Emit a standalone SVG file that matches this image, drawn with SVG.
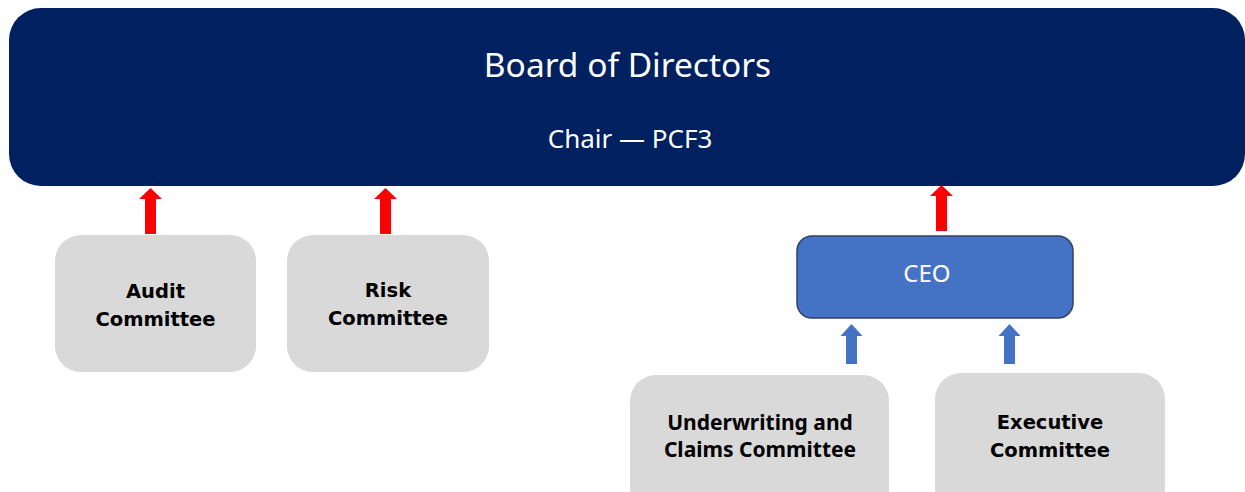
<svg xmlns="http://www.w3.org/2000/svg" width="1245" height="492" viewBox="0 0 1245 492">
  <style>
    .board { fill: #002060; }
    .board-title { font-family: "Noto Sans", "Open Sans", sans-serif; fill: #ffffff; text-anchor: middle; }
    .committee { fill: #D9D9D9; }
    .lbl-v { font-family: "DejaVu Sans", Verdana, sans-serif; font-weight: bold; font-size: 19.5px; fill: #000000; text-anchor: middle; }
    .lbl-n { font-family: "Noto Sans", sans-serif; font-weight: bold; font-size: 21px; fill: #000000; text-anchor: middle; }
    .ceo { fill: #4472C4; stroke: #2F4266; stroke-width: 1.5; }
    .ceo-lbl { font-family: "Noto Sans", sans-serif; font-size: 24px; fill: #ffffff; text-anchor: middle; }
    .arrow-red { fill: #FF0000; }
    .arrow-blue { fill: #4472C4; }
  </style>
  <defs>
    <!-- upward block arrow, tip at (0,0), 46px long -->
    <path id="uparrow" d="M0,0 L11.5,11 L5.5,11 L5.5,46 L-5.5,46 L-5.5,11 L-11.5,11 Z"/>
    <path id="uparrow-short" d="M0,0 L11,12 L5.5,12 L5.5,40 L-5.5,40 L-5.5,12 L-11,12 Z"/>
  </defs>

  <rect width="1245" height="492" fill="#ffffff"/>

  <g id="board">
    <rect class="board" x="9" y="8" width="1236" height="178" rx="32" ry="32"/>
    <text class="board-title" x="627.5" y="77" font-size="33.5">Board of Directors</text>
    <text class="board-title" x="630" y="148" font-size="26">Chair — PCF3</text>
  </g>

  <g id="audit-committee">
    <rect class="committee" x="55" y="235" width="201" height="137" rx="26" ry="26"/>
    <text class="lbl-v" x="155.5" y="298">Audit</text>
    <text class="lbl-v" x="155.5" y="326">Committee</text>
  </g>

  <g id="risk-committee">
    <rect class="committee" x="287" y="235" width="202" height="137" rx="26" ry="26"/>
    <text class="lbl-v" x="388" y="297">Risk</text>
    <text class="lbl-v" x="388" y="325">Committee</text>
  </g>

  <g id="ceo">
    <rect class="ceo" x="797" y="236" width="276" height="82" rx="15" ry="15"/>
    <text class="ceo-lbl" x="927" y="282">CEO</text>
  </g>

  <g id="underwriting-claims-committee">
    <rect class="committee" x="630" y="375" width="259" height="140" rx="26" ry="26"/>
    <text class="lbl-n" x="760" y="430">Underwriting and</text>
    <text class="lbl-n" x="760" y="457">Claims Committee</text>
  </g>

  <g id="executive-committee">
    <rect class="committee" x="935" y="373" width="230" height="140" rx="26" ry="26"/>
    <text class="lbl-v" x="1050" y="429">Executive</text>
    <text class="lbl-v" x="1050" y="457">Committee</text>
  </g>

  <g id="connectors">
    <use href="#uparrow" class="arrow-red" x="150.5" y="188"/>
    <use href="#uparrow" class="arrow-red" x="385.5" y="188"/>
    <use href="#uparrow" class="arrow-red" x="941.5" y="185"/>
    <use href="#uparrow-short" class="arrow-blue" x="851.5" y="324"/>
    <use href="#uparrow-short" class="arrow-blue" x="1009.5" y="324"/>
  </g>
</svg>
